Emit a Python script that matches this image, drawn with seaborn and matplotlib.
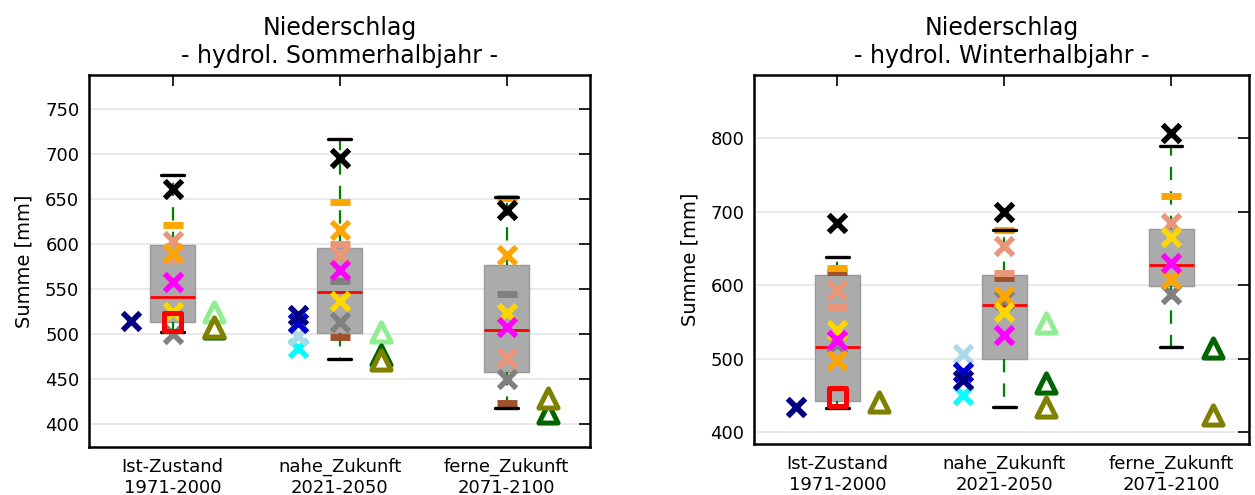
import numpy as np
import pandas as pd
import matplotlib
matplotlib.use("Agg")
import matplotlib.pyplot as plt
import seaborn as sns

nan = np.nan

periods = ["Ist-Zustand\n1971-2000", "nahe_Zukunft\n2021-2050", "ferne_Zukunft\n2071-2100"]
titles = ["Niederschlag\n- hydrol. Sommerhalbjahr -", "Niederschlag\n- hydrol. Winterhalbjahr -"]
ylabel = "Summe [mm]"
som_yticks = [400, 450, 500, 550, 600, 650, 700, 750]
win_yticks = [400, 500, 600, 700, 800]

# ---- Sommerhalbjahr: box statistics (min, q1, median, q3, max) ----
som_min = [502, 472, 417]
som_q1 = [513, 501, 458]
som_med = [541, 546, 504]
som_q3 = [599, 596, 577]
som_max = [677, 717, 652]

# ---- Sommerhalbjahr: individual ensemble members ----
som_black_x = [661, 696, 638]
som_orange_x = [590, 616, 588]
som_salmon_x = [603, 588, 473]
som_magenta_x = [558, 571, 508]
som_gold_x = [524, 536, 523]
som_gray_x = [500, 513, 450]
som_orange_bar = [621, 647, 651]
som_salmon_bar = [582, 600, nan]
som_sienna_bar = [nan, 496, 423]
som_gray_bar = [nan, 559, 544]
som_red_square = [513, nan, nan]
som_navy_x = [514, 521, nan]
som_blue_x = [nan, 512, nan]
som_lightblue_x = [nan, 497, nan]
som_cyan_x = [nan, 484, nan]
som_lightgreen_tri = [524, 502, nan]
som_darkgreen_tri = [506, 476, 412]
som_olive_tri = [508, 471, 429]

# ---- Winterhalbjahr: box statistics ----
win_min = [433, 434, 516]
win_q1 = [442, 499, 599]
win_med = [516, 573, 628]
win_q3 = [614, 614, 677]
win_max = [638, 675, 790]

# ---- Winterhalbjahr: individual ensemble members ----
win_black_x = [684, 700, 807]
win_orange_x = [498, 586, 609]
win_salmon_x = [593, 654, 684]
win_magenta_x = [525, 532, 630]
win_gold_x = [539, 563, 665]
win_gray_x = [520, 580, 588]
win_orange_bar = [623, 675, 721]
win_salmon_bar = [571, 616, nan]
win_sienna_bar = [618, 610, nan]
win_gray_bar = [nan, nan, nan]
win_red_square = [448, nan, nan]
win_navy_x = [434, 471, nan]
win_blue_x = [nan, 482, nan]
win_lightblue_x = [nan, 507, nan]
win_cyan_x = [434, 450, nan]
win_lightgreen_tri = [nan, 548, nan]
win_darkgreen_tri = [nan, 467, 514]
win_olive_tri = [441, 434, 423]

# ---- styles (marker, colour, horizontal offset) ----
STYLE = {
    "sienna_bar": ("_", "#A0522D", 0.0),
    "gray_bar": ("_", "#808080", 0.0),
    "salmon_bar": ("_", "#E9967A", 0.0),
    "orange_bar": ("_", "#FFA500", 0.0),
    "gray_x": ("x", "#808080", 0.0),
    "salmon_x": ("x", "#E9967A", 0.0),
    "orange_x": ("x", "#FFA500", 0.0),
    "gold_x": ("x", "#FFD700", 0.0),
    "magenta_x": ("x", "#FF00FF", 0.0),
    "black_x": ("x", "black", 0.0),
    "red_square": ("s", "red", 0.0),
    "cyan_x": ("x", "#00FFFF", -0.25),
    "lightblue_x": ("x", "#ADD8E6", -0.25),
    "blue_x": ("x", "#0000CD", -0.25),
    "navy_x": ("x", "#000080", -0.25),
    "lightgreen_tri": ("^", "#90EE90", 0.25),
    "darkgreen_tri": ("^", "#006400", 0.25),
    "olive_tri": ("^", "#808000", 0.25),
}

som_series = {
    "sienna_bar": som_sienna_bar, "gray_bar": som_gray_bar, "salmon_bar": som_salmon_bar,
    "orange_bar": som_orange_bar, "gray_x": som_gray_x, "salmon_x": som_salmon_x,
    "orange_x": som_orange_x, "gold_x": som_gold_x, "magenta_x": som_magenta_x,
    "black_x": som_black_x, "red_square": som_red_square, "cyan_x": som_cyan_x,
    "lightblue_x": som_lightblue_x, "blue_x": som_blue_x, "navy_x": som_navy_x,
    "lightgreen_tri": som_lightgreen_tri, "darkgreen_tri": som_darkgreen_tri,
    "olive_tri": som_olive_tri,
}
win_series = {
    "sienna_bar": win_sienna_bar, "gray_bar": win_gray_bar, "salmon_bar": win_salmon_bar,
    "orange_bar": win_orange_bar, "gray_x": win_gray_x, "salmon_x": win_salmon_x,
    "orange_x": win_orange_x, "gold_x": win_gold_x, "magenta_x": win_magenta_x,
    "black_x": win_black_x, "red_square": win_red_square, "cyan_x": win_cyan_x,
    "lightblue_x": win_lightblue_x, "blue_x": win_blue_x, "navy_x": win_navy_x,
    "lightgreen_tri": win_lightgreen_tri, "darkgreen_tri": win_darkgreen_tri,
    "olive_tri": win_olive_tri,
}

sns.set_style("white")
plt.rcParams["font.family"] = ["DejaVu Sans"]
plt.rcParams["text.color"] = "black"
plt.rcParams["axes.labelcolor"] = "black"
plt.rcParams["xtick.color"] = "black"
plt.rcParams["ytick.color"] = "black"

fig = plt.figure(figsize=(12.55, 4.95), dpi=100)
ax1 = fig.add_axes([89 / 1255, 1 - 447 / 495, 501 / 1255, 372 / 495])
ax2 = fig.add_axes([754 / 1255, 1 - 444 / 495, 495 / 1255, 369 / 495])


def draw(ax, stats, series, title, ylim, xlim, yticks):
    vals = np.column_stack(stats).ravel()
    box_df = pd.DataFrame({"period": np.repeat(periods, 5), "value": vals})
    sns.boxplot(
        data=box_df, x="period", y="value", order=periods, whis=(0, 100),
        width=0.27, color="#ababab", saturation=1, linecolor="#9a9a9a",
        linewidth=1.0, showfliers=False, ax=ax,
        whiskerprops=dict(color="green", linestyle=(0, (6, 5)), linewidth=1.6),
        capprops=dict(color="black", linewidth=2.4, zorder=3.5),
        medianprops=dict(color="red", linewidth=2.0),
        zorder=2,
    )
    pos = np.arange(len(periods))
    for name, v in series.items():
        marker, col, off = STYLE[name]
        v = np.asarray(v, dtype=float)
        if marker == "^":
            sns.scatterplot(x=pos + off, y=v, marker="^", color="white",
                            edgecolor=col, s=190, linewidth=3.6, ax=ax, zorder=4)
        elif marker == "s":
            sns.scatterplot(x=pos + off, y=v, marker="s", color="none",
                            edgecolor=col, s=160, linewidth=3.6, ax=ax, zorder=4)
        elif marker == "_":
            sns.scatterplot(x=pos + off, y=v, marker="_", color=col,
                            s=190, linewidth=5.0, ax=ax, zorder=3)
        else:
            sns.scatterplot(x=pos + off, y=v, marker="x", color=col,
                            s=160, linewidth=4.0, ax=ax, zorder=4)
    ax.set_xlim(*xlim)
    ax.set_ylim(*ylim)
    ax.set_yticks(yticks)
    ax.set_xticks(pos)
    ax.set_xticklabels(periods, fontsize=13)
    ax.set_xlabel("")
    ax.set_ylabel(ylabel, fontsize=14, labelpad=8)
    ax.set_title(title, fontsize=17, pad=9)
    ax.yaxis.grid(True, color="#e6e6e6", linewidth=1.2)
    ax.xaxis.grid(False)
    ax.set_axisbelow(True)
    ax.tick_params(direction="in", length=8, width=1.2, top=True, right=True,
                   labelsize=13, color="black")
    ax.tick_params(axis="x", pad=8)
    ax.tick_params(axis="y", pad=7)
    for sp in ax.spines.values():
        sp.set_visible(True)
        sp.set_color("black")
        sp.set_linewidth(1.8)


draw(ax1, [som_min, som_q1, som_med, som_q3, som_max], som_series, titles[0],
     (374, 788), (-0.5, 2.5), som_yticks)
draw(ax2, [win_min, win_q1, win_med, win_q3, win_max], win_series, titles[1],
     (384, 886), (-0.5, 2.467), win_yticks)

fig.savefig("out.png", dpi=100)
